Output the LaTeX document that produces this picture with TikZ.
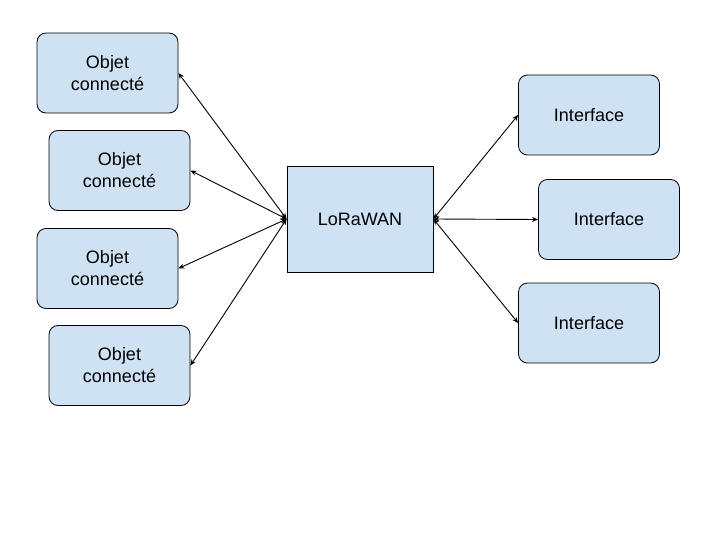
\documentclass[tikz,border=0pt]{standalone}
\usepackage{fontspec}
\setmainfont{Liberation Sans}
\usetikzlibrary{arrows.meta}
\definecolor{boxblue}{HTML}{CFE2F3}
\tikzset{
  objbox/.style = {draw, line width = 0.8pt, fill = boxblue, rounded corners = 9pt, minimum width = 141pt, minimum height = 80pt, align = center, inner sep = 0pt, font = \fontsize{18}{22}\selectfont},
  hubbox/.style = {draw, line width = 0.8pt, fill = boxblue, minimum width = 146pt, minimum height = 106pt, inner sep = 0pt, font = \fontsize{18}{22}\selectfont},
  link/.style = {{Stealth[length=6pt,width=5pt]}-{Stealth[length=6pt,width=5pt]}, line width = 0.9pt}
}
\begin{document}
\begin{tikzpicture}[x = 1pt, y = -1pt]
	\useasboundingbox (0,0) rectangle (720,540);

	\node [hubbox] (lora) at (360,219) {LoRaWAN};

	\node [objbox] (obj1) at (107.5,73)  {Objet\\connecté};
	\node [objbox] (obj2) at (119.5,170.5) {Objet\\connecté};
	\node [objbox] (obj3) at (107.5,268.5) {Objet\\connecté};
	\node [objbox] (obj4) at (119.5,365.5) {Objet\\connecté};

	\node [objbox] (ifc1) at (589,115)   {Interface};
	\node [objbox] (ifc2) at (609,219.5) {Interface};
	\node [objbox] (ifc3) at (589,323)   {Interface};

	\foreach \n in {1,2,3,4}{
			\draw [link] (lora.west) -- (obj\n.east);
		}
	\foreach \n in {1,2,3}{
			\draw [link] (lora.east) -- (ifc\n.west);
		}

\end{tikzpicture}
\end{document}
